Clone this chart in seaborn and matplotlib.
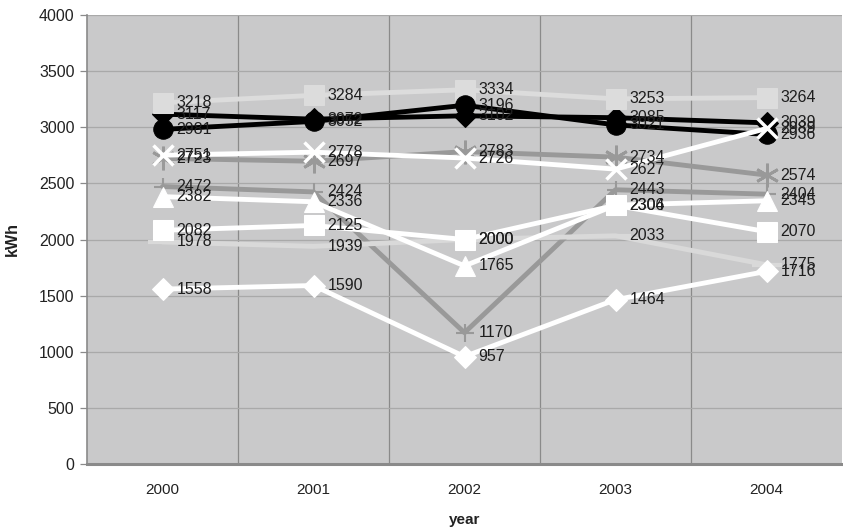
import matplotlib
matplotlib.use("Agg")
import matplotlib.pyplot as plt
from matplotlib.ticker import FixedLocator
import seaborn as sns
import pandas as pd

# Annual electricity use per household group (kWh)
years = [2000, 2001, 2002, 2003, 2004]
light_square = [3218, 3284, 3334, 3253, 3264]
black_diamond = [3117, 3072, 3102, 3085, 3039]
black_circle = [2981, 3052, 3196, 3021, 2936]
gray_star = [2723, 2697, 2783, 2734, 2574]
gray_plus = [2472, 2424, 1170, 2443, 2404]
white_x = [2751, 2778, 2726, 2627, 2989]
light_dash = [1978, 1939, 2000, 2033, 1775]
white_triangle = [2382, 2336, 1765, 2306, 2345]
white_square = [2082, 2125, 2000, 2304, 2070]
white_diamond = [1558, 1590, 957, 1464, 1716]

y_ticks = [0, 500, 1000, 1500, 2000, 2500, 3000, 3500, 4000]

sns.set_style("white", {"axes.facecolor": "#c9c9ca"})
plt.rcParams["font.family"] = ["Liberation Sans", "DejaVu Sans"]

fig = plt.figure(figsize=(8.43, 5.29), dpi=100)
ax = fig.add_axes([87 / 843, 1 - 464 / 529, 755 / 843, 449 / 529])

# drawing order: later series sit on top of earlier ones
series = [
    (black_diamond, dict(color="#000000", marker="D", ms=11, mec="#000000", lw=3.5)),
    (light_square, dict(color="#dcdcdc", marker="s", ms=14, mec="#dcdcdc", lw=3.5)),
    (black_circle, dict(color="#000000", marker="o", ms=14, mec="#000000", lw=3.5)),
    (gray_star, dict(color="#999999", marker=(6, 2, 0), ms=17, mec="#999999", mew=2, lw=3.5)),
    (gray_plus, dict(color="#999999", marker="+", ms=13, mec="#999999", mew=1.5, lw=3.5)),
    (white_x, dict(color="#ffffff", marker="x", ms=15, mec="#ffffff", mew=2.5, lw=3.5)),
    (light_dash, dict(color="#d9d9d9", marker="_", ms=22, mec="#d9d9d9", mew=3, lw=3.5)),
    (white_triangle, dict(color="#ffffff", marker="^", ms=14, mec="#ffffff", lw=3.5)),
    (white_square, dict(color="#ffffff", marker="s", ms=14, mec="#ffffff", lw=3.5)),
    (white_diamond, dict(color="#ffffff", marker="D", ms=11, mec="#ffffff", lw=3.5)),
]

for i, (vals, style) in enumerate(series):
    df = pd.DataFrame({"year": years, "kWh": vals})
    sns.lineplot(data=df, x="year", y="kWh", ax=ax, zorder=3 + i,
                 solid_joinstyle="round", **style)
    for x, v in zip(years, vals):
        ax.annotate(f"{v}", (x, v), xytext=(10, 0), textcoords="offset points",
                    ha="left", va="center", fontsize=11.5, color="#1e1e1e",
                    zorder=30, annotation_clip=False)

ax.set_xlim(1999.5, 2004.5)
ax.set_ylim(0, 4000)
ax.set_yticks(y_ticks)
ax.set_yticklabels([str(t) for t in y_ticks])
ax.set_xticks(years)
ax.set_xticklabels([str(y) for y in years])
ax.xaxis.set_minor_locator(FixedLocator([2000.5, 2001.5, 2002.5, 2003.5]))

ax.grid(axis="y", which="major", color="#a9a9a9", lw=0.9, zorder=1)
ax.grid(axis="x", which="minor", color="#8a8a8a", lw=0.9, zorder=1)
ax.set_axisbelow(True)

ax.tick_params(axis="x", which="major", length=0, pad=14, labelsize=11, labelcolor="#222222")
ax.tick_params(axis="x", which="minor", length=5, width=0.9, color="#8a8a8a", direction="out")
ax.tick_params(axis="y", which="major", length=5, width=0.9, color="#8a8a8a", direction="out",
               left=True, pad=4, labelsize=11.5, labelcolor="#222222")

for side in ["top", "right"]:
    ax.spines[side].set_visible(False)
ax.spines["left"].set_color("#8a8a8a")
ax.spines["left"].set_linewidth(1.2)
ax.spines["bottom"].set_color("#8a8a8a")
ax.spines["bottom"].set_linewidth(2.2)

ax.set_xlabel("year", fontsize=11, fontweight="bold", color="#222222", labelpad=11)
ax.set_ylabel("kWh", fontsize=11.5, fontweight="bold", color="#222222", labelpad=14)

fig.savefig("out.png", dpi=100)
